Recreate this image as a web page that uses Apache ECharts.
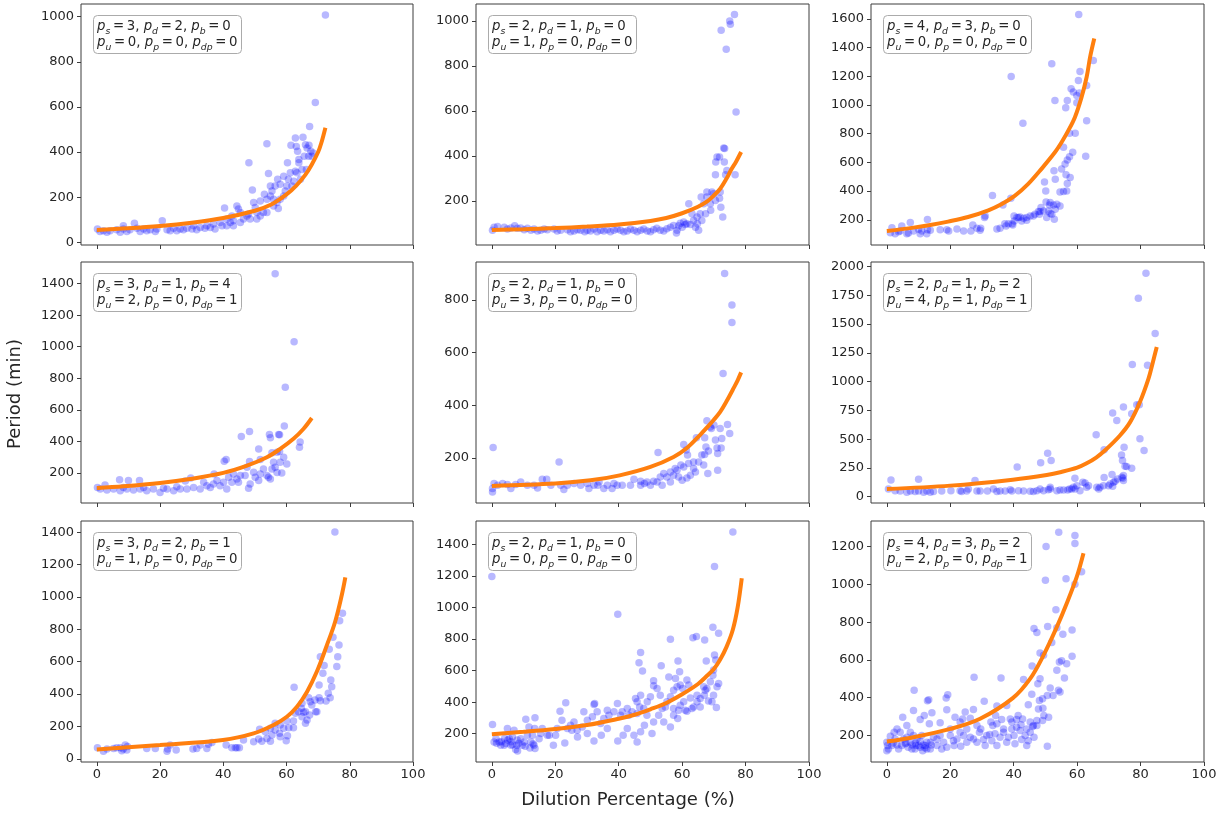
<!DOCTYPE html>
<html><head><meta charset="utf-8">
<script src="https://cdn.jsdelivr.net/npm/echarts@6/dist/echarts.min.js"></script>
<style>html,body{margin:0;padding:0;background:#fff}#c{width:1225px;height:815px}</style>
</head><body><div id="c"></div>
<script>
// ---------- DATA ----------
const xTicks = [0, 20, 40, 60, 80, 100];
const yTicks1 = [0, 200, 400, 600, 800, 1000];
const yTicks2 = [200, 400, 600, 800, 1000];
const yTicks3 = [200, 400, 600, 800, 1000, 1200, 1400, 1600];
const yTicks4 = [200, 400, 600, 800, 1000, 1200, 1400];
const yTicks5 = [200, 400, 600, 800];
const yTicks6 = [0, 250, 500, 750, 1000, 1250, 1500, 1750, 2000];
const yTicks7 = [0, 200, 400, 600, 800, 1000, 1200, 1400];
const yTicks8 = [200, 400, 600, 800, 1000, 1200, 1400];
const yTicks9 = [200, 400, 600, 800, 1000, 1200];

// parameters: [p_s, p_d, p_b, p_u, p_p, p_dp]
const params1 = [3, 2, 0, 0, 0, 0];
const params2 = [2, 1, 0, 1, 0, 0];
const params3 = [4, 3, 0, 0, 0, 0];
const params4 = [3, 1, 4, 2, 0, 1];
const params5 = [2, 1, 0, 3, 0, 0];
const params6 = [2, 1, 2, 4, 1, 1];
const params7 = [3, 2, 1, 1, 0, 0];
const params8 = [2, 1, 0, 0, 0, 0];
const params9 = [4, 3, 2, 2, 0, 1];

const pts1 = [[72.3,1007],[69.1,619],[67.3,513],[53.8,437],[48.1,352],[49.2,232],[54.3,305],[20.7,95],[40.4,152],[57.4,150],
[62.8,462],[63.1,425],[61.4,430],[65.2,466],[66,432],[66.5,418],[67.1,430],[67.7,403],[63.5,403],[65.6,381],[63.9,367],[63.9,352],[60.3,352],[61.2,308],[62.8,315],[63.3,308],[60.6,279],[59.1,293],[57.2,279],[58,257],[54.9,249],[55.4,227],[56.4,249],[55.9,191],[53.8,191],[51.7,183],[53,213],[54.9,205],[53.8,132],[50.6,132],[49.6,176],[50.1,154],[48,125],[45.4,132],[44.3,161],[44.8,147],[42.7,117],[41.1,103],[43.2,95],[39,88],[36.9,81],[34.8,73],[32.7,66],[30.6,73],[28.5,62],[26.4,59],[24.3,62],[22.2,56],[19,59],[16.9,56],[14.8,59],[11.9,84],[12.7,62],[10.5,56],[8.4,59],[8.4,73],[6.3,56],[4.2,51],[2.1,51],[0.2,59],[1,48],[3.2,44],[7.4,44],[9.5,48],[13.7,48],[15.8,51],[18.5,48],[23.2,51],[25.3,51],[27.4,56],[30.1,59],[31.6,56],[34.2,62],[35.9,66],[37.4,59],[39.6,73],[41.1,73],[42.2,88],[43.2,73],[45.4,88],[46.4,103],[47.5,117],[48.5,103],[50.6,103],[51.7,117],[52.7,132],[55.9,161],[57,176],[58,191],[59.1,205],[59.6,227],[60.1,249],[61.7,249],[62.3,271],[64.4,279],[64.9,323],[66.3,323],[67,381],[68,381],[68.4,396]];
const curve1 = [[0,55],[10,62],[20,72],[30,87],[40,108],[50,140],[55,166],[60,212],[63,250],[66,300],[68,345],[70,400],[71,440],[72.3,508]];

const pts2 = [[76.5,1028],[75,1000],[75.2,985],[72.3,959],[73.9,874],[77,596],[73.1,436],[73.4,433],[71,396],[71.8,396],[70.6,373],[73.3,373],[70.5,317],[73.7,317],[74.1,336],[76.7,317],[71.8,213],[72.2,173],[72.8,129],[72,240],[69.9,233],[67.8,218],[66.8,188],[68.9,188],[69,159],[67.4,144],[65.7,144],[64.7,129],[66.2,114],[64.8,99],[62.1,188],[63.1,144],[63.6,114],[61.5,99],[60.5,107],[59.4,102],[58.4,70],[58.2,58],[57.3,92],[55.2,77],[53.1,70],[51,73],[49,67],[46.9,70],[44.8,70],[42.7,67],[40.6,70],[38.5,70],[36.4,73],[34.3,70],[32.2,76],[30.1,70],[28,70],[25.9,67],[23.8,73],[21.7,70],[19.6,76],[17.5,73],[15.4,70],[13.3,76],[11.2,79],[9.1,81],[7.2,90],[6,81],[3.9,84],[1.8,87],[0.2,70],[0.7,84],[4.9,76],[8,79],[10.2,73],[12.3,70],[14.4,67],[16.5,76],[20.6,67],[24.8,64],[27,73],[29.3,64],[31.1,67],[33.2,64],[35.3,67],[37.4,64],[39.5,76],[41.6,64],[43.7,76],[45.8,64],[47.9,76],[50,64],[52,79],[54.2,67],[56.3,84],[58.9,90],[60,84],[61,96],[62.6,96],[64.2,84],[65.2,70],[66,218],[67.8,240],[69.4,240],[70.5,203]];
const curve2 = [[0,72],[10,75],[20,80],[30,87],[40,96],[50,112],[55,125],[60,146],[65,175],[68,200],[70,225],[72,255],[74,300],[75.5,340],[77,375],[78.6,418]];

const pts3 = [[60.5,1631],[39.2,1199],[52,1288],[60.9,1234],[60.4,1171],[65.1,1311],[63,1136],[60.7,1083],[58.1,1113],[58.8,1090],[59.9,1066],[59.9,1015],[53,1031],[56.9,1031],[56.4,980],[42.9,873],[63,891],[59.4,803],[57.6,803],[62.7,642],[55.7,705],[58.6,670],[57.6,640],[56.9,616],[56.2,588],[55.1,553],[56.5,513],[57.8,495],[56.9,453],[55.7,397],[54.6,394],[56.7,401],[52.7,541],[53.1,483],[49.7,464],[50.1,401],[54.6,296],[52.5,303],[53.1,273],[51.5,320],[50.9,261],[51.5,243],[50.4,215],[52,238],[52.8,203],[49.4,261],[47.8,257],[48.1,238],[46.7,238],[45.2,226],[44.1,196],[42,219],[42.5,191],[43.1,210],[41,215],[40.1,226],[40.2,191],[39.7,163],[38.3,173],[37.6,156],[36.6,303],[39.1,350],[33.3,369],[31,226],[34.7,135],[30.8,215],[29.6,140],[29.4,126],[26.5,121],[27.1,163],[22.1,135],[18.9,131],[19.5,121],[16.8,131],[12.8,201],[7.4,180],[12.8,131],[11,121],[10.5,103],[12.6,103],[6.8,107],[6.3,103],[4.2,121],[4.7,156],[1.6,145],[1.1,110],[2.6,103],[3.7,117],[8.4,121],[10,133],[13.7,126],[24.2,121],[28.4,140],[35.7,140],[37.2,173],[39.5,173],[41.5,215],[44.1,215],[46.2,226],[48.3,257],[48.6,285],[51.3,303],[53.6,308],[50.2,324]];
const curve3 = [[0,121],[8.4,145],[13.7,163],[19.3,187],[25.6,219],[32,266],[36.1,308],[40.3,366],[44.5,448],[48.7,553],[53,670],[55.1,740],[57.2,821],[59.3,915],[61.4,1055],[63,1195],[64.1,1335],[65.4,1463]];

const pts4 = [[56.4,1463],[62.4,1032],[59.6,743],[59.3,497],[48.3,463],[45.7,431],[54.6,444],[54.9,422],[57.5,444],[57.8,442],[64.3,395],[64.1,363],[57,331],[57.8,335],[55.4,327],[51.7,285],[48.3,272],[40.9,285],[40.3,274],[51.2,352],[47.5,236],[57,202],[58.5,200],[54.9,161],[48,102],[41.1,98],[7.2,157],[10,151],[13.5,151],[2.6,123],[37.1,193],[29.7,168],[28,149],[51.7,193],[49.6,204],[45.4,183],[44.3,161],[42.7,140],[40.1,140],[39,119],[36.9,130],[34.8,119],[32.7,98],[30.6,108],[28.5,98],[26.4,98],[24.3,87],[22.2,98],[20,76],[17.9,98],[15.8,87],[13.7,98],[11.6,91],[9.5,98],[7.4,87],[5.3,98],[3.2,91],[1.1,98],[0.2,108],[8.4,108],[14.8,108],[21.1,102],[25.3,112],[33.8,140],[35.9,108],[38,151],[41.7,172],[43.2,193],[44.8,140],[46.9,183],[48.5,130],[50.1,172],[51.2,151],[52.7,225],[53.8,183],[55.4,225],[55.9,268],[56.4,236],[58,268],[59.1,299],[60.1,257],[54.3,172]];
const curve4 = [[0,104],[8.4,115],[20,136],[29.5,161],[40,200],[47.5,246],[53.8,299],[58,352],[62.2,416],[65.4,480],[68,548]];

const pts5 = [[73.4,900],[75.7,781],[75.7,714],[72.9,521],[0.4,240],[21.2,185],[52.4,221],[67.8,341],[68.9,318],[70,325],[69.2,312],[74.3,327],[75,293],[72,312],[72.5,274],[70.5,268],[71,238],[72.3,238],[71.2,217],[68.3,226],[67.5,242],[67.1,277],[64.5,277],[67.1,213],[66.8,173],[68.1,141],[71.2,153],[63.6,185],[64.2,147],[62.6,134],[60.5,251],[61.3,230],[61.7,211],[59.6,173],[60.5,166],[62,179],[58.4,153],[57.3,134],[58.9,128],[60,115],[61.5,124],[56.3,147],[55.2,128],[54.2,141],[53.1,128],[52.1,109],[51,112],[48.9,109],[46.9,112],[44.8,119],[43.7,96],[41.1,96],[38.5,103],[36.4,96],[35.3,84],[33.8,109],[32.2,96],[30.1,103],[28,96],[25.9,103],[23.8,96],[22.7,80],[21.7,96],[17.3,119],[15.9,119],[18.6,96],[14.4,86],[13.3,96],[11.2,96],[9.1,109],[7.5,99],[6,84],[4.9,99],[3.4,103],[1.8,96],[0.2,84],[0.2,71],[0.7,103],[30.6,84],[33.4,96],[37.9,84],[39.5,96],[46.9,96],[48.1,103],[50,96],[53.7,96],[56.3,109],[57.8,160],[63.6,160],[65.2,185],[66.2,211]];
const curve5 = [[0,94],[20,103],[31.1,115],[40.3,134],[50,166],[57.3,204],[61.5,238],[65.7,288],[68,318],[70,345],[72,375],[74,415],[76,460],[77.5,495],[78.6,525]];

const pts6 = [[81.7,1942],[79.3,1724],[84.6,1419],[77.4,1148],[82.2,1142],[78.8,799],[79.6,799],[77.2,721],[71.2,727],[74.6,779],[72.5,663],[66,538],[68.5,407],[79.8,503],[81.1,401],[74.8,430],[74,363],[74.3,314],[75.1,265],[75.6,262],[77.2,247],[50.7,378],[48.5,294],[51.8,314],[41.1,259],[1.3,145],[10,151],[27.8,140],[59.3,160],[68.5,166],[71,192],[74.6,183],[74.4,160],[74.6,140],[72,134],[70.4,110],[71.2,90],[62.5,119],[61.8,125],[63,81],[63.6,96],[60.9,52],[59.9,96],[59.3,67],[67.2,81],[68.3,96],[66.2,81],[55.7,58],[54.6,58],[53.6,52],[51.5,67],[49.4,52],[47.3,52],[45.2,47],[43.1,49],[41.5,52],[39.4,49],[37.3,49],[35.7,49],[33.6,67],[34.7,44],[29.4,49],[28.4,49],[25.2,49],[23.6,44],[23.1,52],[20.2,52],[17.3,49],[14.7,44],[13.7,38],[12.6,49],[11.6,38],[10,49],[8.9,44],[7.4,49],[6.3,38],[4.2,49],[2.6,52],[0.5,67],[25.7,67],[31.7,49],[38.9,61],[46.2,44],[48.3,67],[50.9,61],[51.5,81],[57.6,67],[58.3,67],[58.8,81],[57,58],[66.8,67],[69.9,96],[71.5,125],[72.8,154],[74.1,169]];
const curve6 = [[0,67],[20,96],[39.7,148],[50.4,189],[55,215],[60,252],[63,290],[66,340],[69,408],[73.5,532],[76.7,648],[79.8,823],[82.5,1026],[83.8,1160],[85.1,1302]];

const pts7 = [[75.3,1402],[77.7,900],[76.8,853],[74.7,752],[76.6,704],[73.5,677],[70.7,630],[76.2,630],[71.9,576],[75.9,570],[71.5,529],[74,487],[74.3,446],[70.3,456],[62.4,442],[73.2,405],[72.5,357],[73.8,378],[70.3,378],[70.7,359],[67,378],[67.5,353],[69.6,291],[69.2,291],[64.9,343],[64.7,312],[66,291],[67.3,270],[66.5,240],[66,219],[64.9,260],[65.4,287],[62.2,233],[62.2,192],[60.7,192],[60.3,142],[59.9,112],[58,209],[57.8,157],[58,136],[56.4,178],[55.4,147],[54.9,109],[53.8,126],[52.2,109],[51.5,182],[51.2,122],[49.6,105],[46.4,116],[40.9,85],[43.8,68],[44.3,68],[45.1,68],[42.7,68],[34.8,64],[31.6,64],[30.4,60],[32.7,85],[35.3,89],[36.4,101],[25.1,54],[22.4,60],[22.2,47],[18.5,64],[15.8,64],[23.2,85],[9,85],[9.5,54],[8.4,60],[7.4,68],[6.3,68],[5.3,64],[3.2,60],[2.1,47],[0.2,68],[7.9,50],[9.7,76],[53.3,167],[54.9,188],[59.1,188],[56.4,219],[60.1,233],[62.8,281],[63.8,291],[68,332],[69,363]];
const curve7 = [[0,58],[20,85],[39.9,116],[49.6,157],[55.9,209],[60.1,260],[63.3,322],[66.5,415],[69.6,539],[72.8,704],[75.4,849],[77.5,1014],[78.6,1121]];

const pts8 = [[76,1477],[70.2,1259],[0,1196],[39.7,957],[69.7,874],[71.5,836],[56.3,798],[63.4,808],[64.5,815],[67.1,794],[46.9,715],[46.4,649],[47.5,597],[53.4,631],[58.7,660],[59.2,593],[67.6,660],[70.2,698],[70.6,667],[55.8,560],[51,536],[69.9,603],[69.7,571],[71,497],[70.8,366],[69.9,444],[68.3,408],[67.8,487],[67.3,476],[67,444],[65.7,423],[64.7,402],[63.6,370],[62.6,427],[62.1,508],[61.5,540],[60.2,487],[59.4,508],[57.9,550],[58.4,497],[57.3,476],[56.3,434],[55.2,402],[54.7,370],[57.3,360],[58.9,349],[60.5,402],[61.5,343],[53.7,360],[53.1,444],[52.1,487],[51,504],[50,434],[49,402],[47.9,360],[46.6,370],[45.8,402],[45.3,423],[46.9,444],[45.8,328],[44.2,339],[43.2,317],[42.7,360],[41.1,339],[40.6,317],[39.6,391],[38.5,339],[36.9,317],[36.4,349],[35.3,296],[34.3,264],[32.4,391],[32.2,385],[33.2,339],[31.7,307],[30.1,286],[28.5,243],[29,339],[26.9,222],[25.9,275],[24.8,254],[23.8,233],[23.3,396],[21.5,343],[22.1,286],[20.6,233],[20.1,190],[19.4,127],[17.5,190],[15.9,233],[15.4,201],[13.6,301],[13.5,233],[12.8,190],[13.3,127],[13.6,106],[11.7,243],[10.7,292],[11.2,190],[10.2,148],[9.6,127],[8.1,91],[7.9,127],[7,222],[6.5,180],[4.9,233],[5.5,169],[4.4,138],[3.9,127],[2.3,148],[0.7,148],[0.2,258],[1.3,169],[2.8,127],[6,127],[9.1,169],[12.3,148],[14.9,169],[18.1,190],[23,142],[25.2,222],[27,180],[30.1,201],[32.2,154],[34.5,190],[36.4,233],[39.7,154],[41.4,190],[42.7,233],[44.8,190],[45.8,148],[46.9,212],[48.1,254],[48.9,317],[50.5,201],[51,275],[52.6,317],[54.2,275],[56.3,243],[57.3,317],[58.6,296],[59.4,381],[61,349],[63.1,360],[64.7,444],[65.7,370],[66.8,497],[68.9,529],[71.5,518],[69.4,402],[1.5,140],[3,150],[5,160],[6.5,130],[7.5,100],[8.5,140],[10.5,120],[12,110],[13,135],[4,170],[6,150],[8,160]];
const curve8 = [[0,197],[10,212],[20,230],[30,255],[40,295],[45,320],[50,355],[55,395],[60,450],[65,515],[68,570],[70,610],[72,670],[74,750],[76,860],[77.5,1000],[78.8,1185]];

const pts9 = [[54.2,1276],[59.3,1258],[59.3,1216],[50.2,1200],[50,1021],[56.5,1030],[61.4,1067],[59.3,1000],[53.3,865],[50.7,777],[53.6,770],[46.4,766],[47.3,745],[55.5,736],[58.4,758],[52,692],[48.3,637],[49.4,625],[58.4,619],[54.4,589],[55.1,595],[56.7,580],[45.8,568],[53.6,545],[56,504],[48.3,501],[47.6,474],[43.1,497],[36,504],[27.5,508],[49.1,395],[49.2,345],[48.1,386],[49.5,306],[49.1,280],[51,297],[51.5,451],[52.4,412],[54.1,439],[54.6,430],[50.6,412],[45.7,418],[44.6,363],[46,248],[46.4,191],[50.6,143],[44.1,235],[40.9,285],[41.4,306],[42.8,288],[42.3,257],[40.9,244],[38.9,288],[37.8,359],[34.7,356],[34.3,306],[34.7,262],[36.2,285],[33.4,253],[32.4,205],[30.7,381],[29.6,235],[27.3,338],[26.3,292],[24.7,324],[23.9,288],[23.1,271],[21.5,297],[18.9,336],[19.2,416],[18.7,398],[16.8,267],[14.2,320],[13.2,389],[12.8,384],[13.4,262],[11.8,306],[10.5,285],[8.6,439],[8.4,333],[6.3,253],[5,297],[3.2,235],[2.3,218],[1.1,196],[0,165],[0,120],[0.2,147],[1.6,147],[3.2,150],[4.7,147],[6.3,191],[7.4,165],[7.9,129],[9.2,147],[9.5,182],[10.5,138],[11.3,120],[12.1,147],[12.6,165],[13.7,129],[14.7,191],[15.8,147],[17.9,165],[18.9,138],[20,200],[21.2,147],[22.1,182],[23.3,143],[24.2,200],[25.2,165],[26.3,191],[28.4,165],[29.2,218],[30.5,179],[31.5,200],[33.1,173],[34.1,209],[35.7,191],[36.8,218],[38.3,191],[39.4,235],[40.1,200],[42,226],[43.6,200],[45.2,218],[44.6,173],[46.2,253],[47.3,280],[47.8,341],[39.4,271],[36.8,235],[32.8,271],[28.4,253],[25.2,235],[20,235],[16.8,200],[11,200],[7.4,218],[4.2,218],[2.6,182],[5.3,182],[8.4,200],[10,147],[12.6,129],[8.9,129],[6.7,138],[5.8,156],[3.7,129],[0.5,129],[13.7,165],[15.8,182],[17.3,129],[21,173],[23.1,218],[27.3,182],[31,147],[34.7,147],[37.8,165],[40.4,156],[42.5,179],[44.1,147],[47.3,253],[45.2,271],[9,160],[10.5,170],[11.5,150],[12,135],[6,160],[8,150],[14,150],[2,160]];
const curve9 = [[0,168],[8.4,191],[20,235],[29.4,289],[39.7,398],[45.2,501],[49.4,625],[53.6,775],[56.7,899],[59.9,1041],[62,1165]];

// ---------- LAYOUT ----------
const xRange = [-5, 100];
const yRanges = [[-12,1056],[5,1075],[24,1704],[9,1537],[29,944],[-55,2040],[-20,1470],[21,1547],[60,1335]];
const colLeft = [81, 476, 871], colW = [332, 333, 333];
const rowTop = [4, 262, 521], rowH = 241;

const panels = [
  [pts1, curve1, yTicks1, params1], [pts2, curve2, yTicks2, params2], [pts3, curve3, yTicks3, params3],
  [pts4, curve4, yTicks4, params4], [pts5, curve5, yTicks5, params5], [pts6, curve6, yTicks6, params6],
  [pts7, curve7, yTicks7, params7], [pts8, curve8, yTicks8, params8], [pts9, curve9, yTicks9, params9]
];

const FONT = 'DejaVu Sans';
const TXT = '#262626', FRAME = '#3c3c3c';
const EQ = '\u2009=\u2009';
function boxText(p) {
  const g = (sub, v, last) => `{p|p}{s|${sub}}{t|${EQ}${v}${last ? '' : ', '}}`;
  return g('s', p[0]) + g('d', p[1]) + g('b', p[2], true) + '\n' +
         g('u', p[3]) + g('p', p[4]) + g('dp', p[5], true);
}
const plain = v => String(v);

const grids = [], xAxes = [], yAxes = [], series = [], titles = [];
panels.forEach(([pts, curve, yt, prm], i) => {
  const r = Math.floor(i / 3), c = i % 3;
  const left = colLeft[c], top = rowTop[r];
  grids.push({left, top, width: colW[c], height: rowH, show: true, borderColor: FRAME, borderWidth: 1, backgroundColor: 'rgba(0,0,0,0)'});
  xAxes.push({gridIndex: i, type: 'value', min: xRange[0], max: xRange[1],
    axisLine: {show: false, onZero: false}, splitLine: {show: false},
    axisTick: {show: true, length: 4, customValues: xTicks, lineStyle: {color: FRAME, width: 1}},
    axisLabel: {show: r === 2, customValues: xTicks, formatter: plain, margin: 6, fontSize: 13, fontFamily: FONT, color: TXT}});
  yAxes.push({gridIndex: i, type: 'value', min: yRanges[i][0], max: yRanges[i][1],
    axisLine: {show: false, onZero: false}, splitLine: {show: false},
    axisTick: {show: true, length: 4, customValues: yt, lineStyle: {color: FRAME, width: 1}},
    axisLabel: {show: true, customValues: yt, formatter: plain, margin: 7, fontSize: 13, fontFamily: FONT, color: TXT}});
  series.push({type: 'scatter', xAxisIndex: i, yAxisIndex: i, data: pts, symbolSize: 7.5,
    itemStyle: {color: 'rgba(0,0,255,0.35)'}, z: 2, silent: true, animation: false});
  series.push({type: 'line', xAxisIndex: i, yAxisIndex: i, data: curve, showSymbol: false, smooth: 0.35,
    lineStyle: {color: '#ff7f0e', width: 4, cap: 'butt'}, z: 3, silent: true, animation: false});
  titles.push({left: left + 12, top: top + 13, text: boxText(prm), backgroundColor: '#ffffff',
    borderColor: '#ababab', borderWidth: 1, borderRadius: 4, padding: [2, 4, 1, 4],
    textStyle: {fontFamily: FONT, fontSize: 13, color: TXT, lineHeight: 16, fontWeight: 'normal',
      rich: {
        p: {fontFamily: FONT, fontStyle: 'italic', fontSize: 13.3, color: TXT, lineHeight: 16},
        s: {fontFamily: FONT, fontStyle: 'italic', fontSize: 9.3, color: TXT, lineHeight: 16, padding: [10, 0, 0, 0]},
        t: {fontFamily: FONT, fontSize: 13.3, color: TXT, lineHeight: 16}
      }}});
});

const chart = echarts.init(document.getElementById('c'), null, {renderer: 'canvas', width: 1225, height: 815});
chart.setOption({
  animation: false,
  backgroundColor: '#ffffff',
  title: titles,
  grid: grids, xAxis: xAxes, yAxis: yAxes, series,
  graphic: [
    {type: 'text', x: 15, y: 394, rotation: Math.PI / 2,
     style: {text: 'Period (min)', fontSize: 18, fontFamily: FONT, fill: TXT, align: 'center', verticalAlign: 'middle', textAlign: 'center', textVerticalAlign: 'middle'}},
    {type: 'text', x: 628, y: 800,
     style: {text: 'Dilution Percentage (%)', fontSize: 18, fontFamily: FONT, fill: TXT, align: 'center', verticalAlign: 'middle', textAlign: 'center', textVerticalAlign: 'middle'}}
  ]
});
</script></body></html>
